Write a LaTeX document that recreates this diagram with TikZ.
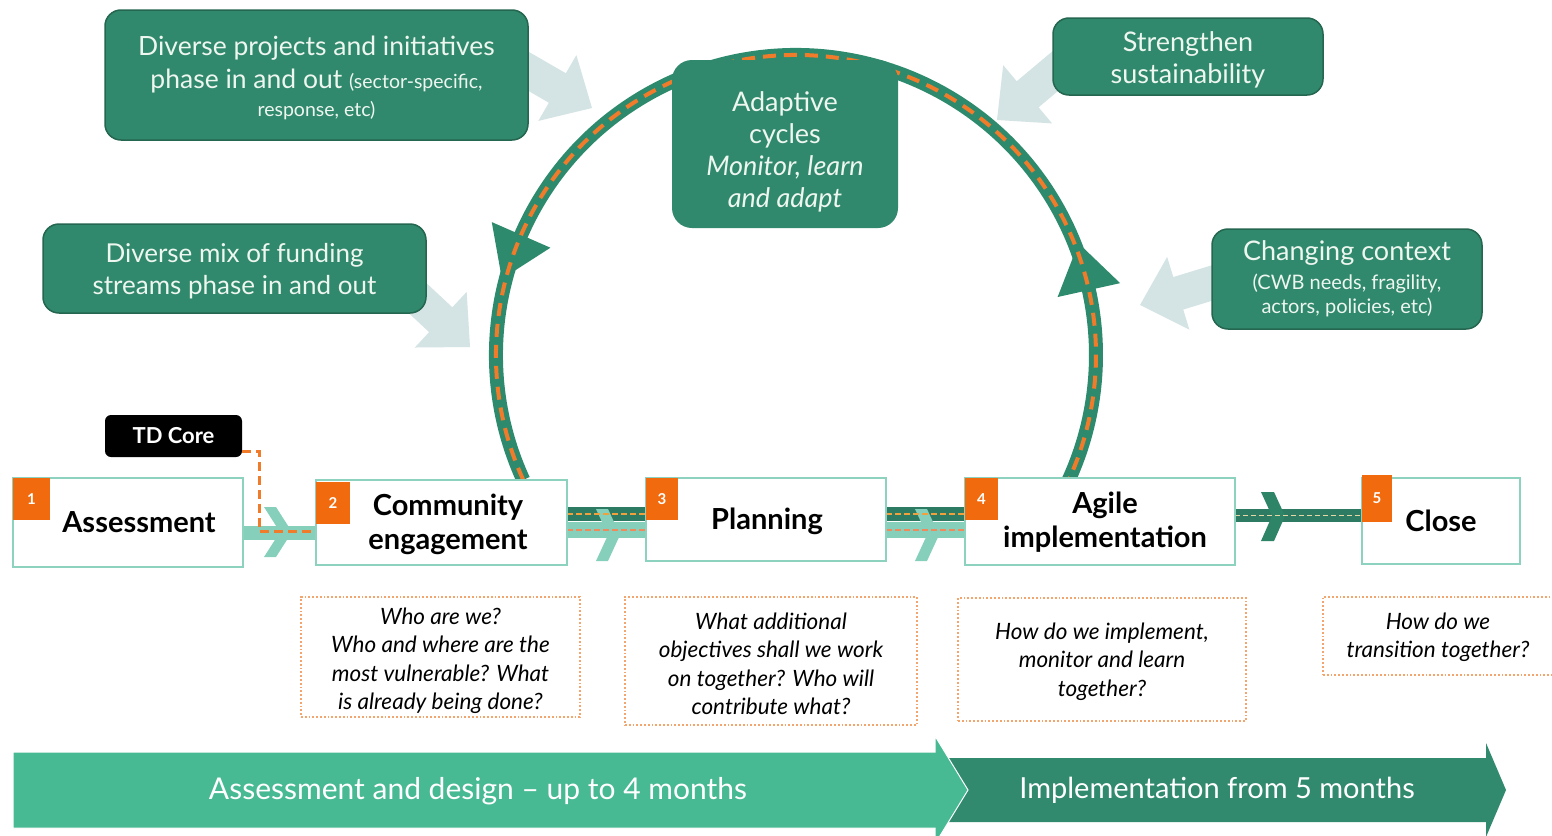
\documentclass[tikz,border=0pt]{standalone}
\usepackage{fontspec}
\setmainfont{Lato}
\usetikzlibrary{calc}
\definecolor{dgreen}{HTML}{31896D}
\definecolor{dborder}{HTML}{24664F}
\definecolor{ringc}{HTML}{2E8A6C}
\definecolor{orng}{HTML}{F07B2A}
\definecolor{badgec}{HTML}{F26A0E}
\definecolor{grayarr}{HTML}{D4E3E3}
\definecolor{lteal}{HTML}{8CD2BF}
\definecolor{lband}{HTML}{86D0BB}
\definecolor{dband}{HTML}{2C7B62}
\definecolor{chevd}{HTML}{2E8467}
\definecolor{arrA}{HTML}{47B993}
\definecolor{arrB}{HTML}{318A6E}
\definecolor{qborder}{HTML}{F2A66E}
\definecolor{boxtext}{HTML}{EEF6F0}
\definecolor{dashpink}{HTML}{F08A5D}
\definecolor{dashlight}{HTML}{E8D8A8}
\definecolor{dashorange}{HTML}{F2A03C}
\tikzset{
  gbox/.style={fill=dgreen, draw=dborder, line width=1.5pt, rounded corners=16pt, text=boxtext, align=center, inner sep=0pt},
  stagebox/.style={draw=lteal, line width=2pt, fill=white, inner sep=0pt, font=\bfseries\fontsize{29}{34}\selectfont, align=center},
  stagelabel/.style={inner sep=0pt, font=\bfseries\fontsize{29}{34}\selectfont, align=center},
  badgebox/.style={fill=badgec, text=white, font=\bfseries\fontsize{15}{15}\selectfont, inner sep=0pt},
  qbox/.style={draw=qborder, dotted, line width=1.8pt, inner sep=0pt},
  qtext/.style={align=center, inner sep=0pt, font=\itshape\fontsize{22.5}{28.5}\selectfont},
  ringline/.style={draw=ringc, line width=14pt},
  ringdash/.style={draw=orng, line width=4pt, dash pattern=on 13pt off 8pt},
  grayfill/.style={fill=grayarr},
  lightband/.style={fill=lband},
  darkband/.style={fill=dband},
  banddash/.style={line width=1.6pt, dash pattern=on 6pt off 3pt},
  tddash/.style={draw=orng, line width=3pt, dash pattern=on 9pt off 5pt},
  bigtext/.style={text=white, font=\fontsize{30}{32}\selectfont, inner sep=0pt},
  boxtxt/.style={text=boxtext, align=center, inner sep=0pt},
}
% gray block arrow: tip, angle, length
\newcommand{\grayblock}[3]{%
  \begin{scope}[shift={#1}, rotate=#2]
    \fill[grayfill] (-#3,-17) -- (-40,-17) -- (-40,-38) -- (0,0) -- (-40,38) -- (-40,17) -- (-#3,17) -- cycle;
  \end{scope}}
\begin{document}
\begin{tikzpicture}[x=1pt,y=1pt]
\useasboundingbox (0,0) rectangle (1552,-835);
\fill[white] (0,0) rectangle (1552,-835);

% gray arrows (behind boxes)
\grayblock{(592,-108)}{-30}{110}
\grayblock{(997,-120)}{220}{110}
\grayblock{(470,-347)}{-43}{110}
\grayblock{(1140,-305)}{197}{110}

% ring
\coordinate (C) at (796,-355);
\draw[ringline] ($(C)+(204.6:300)$) arc[start angle=204.6, end angle=-24.6, radius=300];
% arrowheads on ring
\fill[ringc] ($(C)+(156.4:268)$) -- ($(C)+(156.4:332)$) -- ($(C)+(156.4:300)+(246.4:48)$) -- cycle;
\fill[ringc] ($(C)+(12.5:268)$) -- ($(C)+(12.5:332)$) -- ($(C)+(12.5:300)+(102.5:48)$) -- cycle;
\draw[ringdash] ($(C)+(204.6:300)$) arc[start angle=204.6, end angle=-24.6, radius=300];

% green boxes
\node[gbox, minimum width=423pt, minimum height=130pt] (proj) at (316.5,-75) {};
\node[boxtxt, font=\fontsize{26.5}{33}\selectfont] (projtxt) at (316.5,-78)
  {Diverse projects and initiatives\\ phase in and out {\fontsize{19.5}{24}\selectfont (sector-specific,}\\[-5pt]{\fontsize{19.5}{24}\selectfont response, etc)}};
\node[gbox, minimum width=270pt, minimum height=77pt] (sust) at (1188,-56.5) {};
\node[boxtxt, font=\fontsize{27}{32}\selectfont] (susttxt) at (1188,-59.5)
  {Strengthen\\sustainability};
\node[gbox, draw=none, rounded corners=20pt, minimum width=226pt, minimum height=168pt] (adapt) at (785,-144) {};
\node[boxtxt, font=\fontsize{27}{32}\selectfont] (adapttxt) at (785,-152)
  {Adaptive\\cycles\\{\itshape Monitor, learn}\\{\itshape and adapt}};
\node[gbox, minimum width=383pt, minimum height=89pt] (fund) at (234.5,-268.5) {};
\node[boxtxt, font=\fontsize{26}{32}\selectfont] (fundtxt) at (234.5,-271)
  {Diverse mix of funding\\streams phase in and out};
\node[gbox, minimum width=270pt, minimum height=100pt, font=\fontsize{20}{24}\selectfont] (ctx) at (1347,-279)
  {{\fontsize{27}{30}\selectfont Changing context}\\[5pt](CWB needs, fragility,\\actors, policies, etc)};

% TD core
\node[fill=black, rounded corners=6pt, text=white, font=\bfseries\fontsize{22}{24}\selectfont, minimum width=137pt, minimum height=42pt, inner sep=0pt] (td) at (173.5,-436) {TD Core};

% stage connectors
% 1 -> 2
\fill[lightband] (243,-526) rectangle (316,-540);
\fill[lband] (264,-507) -- (276,-507) -- (292,-532) -- (276,-557) -- (264,-557) -- (280,-532) -- cycle;
% 2 -> 3
\fill[darkband] (567,-507) rectangle (646,-521);
\fill[lightband] (567,-522) rectangle (646,-538);
\fill[lband] (596,-509) -- (608,-509) -- (620,-535) -- (608,-561) -- (596,-561) -- (608,-535) -- cycle;
\draw[banddash, draw=dashorange] (567,-514) -- (646,-514);
\draw[banddash, draw=dashpink] (567,-530) -- (646,-530);
% 3 -> 4
\fill[darkband] (886,-507) rectangle (965,-521);
\fill[lightband] (886,-522) rectangle (965,-538);
\fill[lband] (915,-509) -- (927,-509) -- (939,-535) -- (927,-561) -- (915,-561) -- (927,-535) -- cycle;
\draw[banddash, draw=dashorange] (886,-514) -- (965,-514);
\draw[banddash, draw=dashpink] (886,-530) -- (965,-530);
% 4 -> 5
\fill[darkband] (1235,-509) rectangle (1362,-522);
\fill[chevd] (1261,-492) -- (1274,-492) -- (1285,-516) -- (1274,-541) -- (1261,-541) -- (1272,-516) -- cycle;
\draw[banddash, draw=dashlight, line width=1.3pt, dash pattern=on 5pt off 3pt] (1235,-515.5) -- (1362,-515.5);

% stage boxes
\node[stagebox, minimum width=230pt, minimum height=89pt] (sA) at (128,-522.5) {\hspace*{22pt}Assessment};
\node[stagebox, minimum width=251pt, minimum height=85pt] (sB) at (441.5,-522.5) {};
\node[stagelabel] (sBt) at (448,-524) {Community\\engagement};
\node[stagebox, minimum width=240pt, minimum height=83pt] (sC) at (766,-519.5) {};
\node[stagelabel] (sCt) at (767,-521) {Planning};
\node[stagebox, minimum width=270pt, minimum height=87pt] (sD) at (1100,-521.5) {};
\node[stagelabel] (sDt) at (1105,-522) {Agile\\implementation};
\node[stagebox, minimum width=158pt, minimum height=86pt] (sE) at (1441,-521) {Close};

% badges
\node[badgebox, minimum width=37pt, minimum height=42pt] (b1) at (31.5,-499) {1};
\node[badgebox, minimum width=34pt, minimum height=42pt] (b2) at (333,-503) {2};
\node[badgebox, minimum width=32pt, minimum height=42pt] (b3) at (662,-499) {3};
\node[badgebox, minimum width=33pt, minimum height=42pt] (b4) at (981.5,-499) {4};
\node[badgebox, minimum width=30pt, minimum height=47pt] (b5) at (1377,-498.5) {5};

% TD core dashed link
\draw[tddash] ($(td.south east)+(0,6)$) -- ++(17,0) |- ($(sB.west)+(0,-9)$);

% question boxes
\node[qbox, minimum width=279pt, minimum height=120pt] (q2) at (440.5,-657) {};
\node[qtext] (q2t) at (440.5,-661)
  {Who are we?\\Who and where are the\\most vulnerable? What\\is already being done?};
\node[qbox, minimum width=292pt, minimum height=128pt] (q3) at (771,-661) {};
\node[qtext] (q3t) at (771,-664)
  {What additional\\objectives shall we work\\on together? Who will\\contribute what?};
\node[qbox, minimum width=288pt, minimum height=123pt] (q4) at (1102,-659.5) {};
\node[qtext] (q4t) at (1102,-661.5)
  {How do we implement,\\monitor and learn\\together?};
\node[qbox, minimum width=240pt, minimum height=78pt] (q5) at (1443,-636) {};
\node[qtext] (q5t) at (1438,-637.5)
  {How do we\\transition together?};

% bottom arrows
\fill[arrB] (930,-758) -- (1486,-758) -- (1486,-743) -- (1506,-790) -- (1486,-837) -- (1486,-822) -- (930,-822) -- cycle;
\fill[arrA, draw=white, line width=1pt] (13,-752) -- (935,-752) -- (935,-736) -- (968,-790) -- (935,-844) -- (935,-828) -- (13,-828) -- cycle;
\node[bigtext] (tA) at (478,-791) {Assessment and design – up to 4 months};
\node[bigtext, font=\fontsize{29}{31}\selectfont] (tB) at (1217,-790) {Implementation from 5 months};
\end{tikzpicture}
\end{document}
